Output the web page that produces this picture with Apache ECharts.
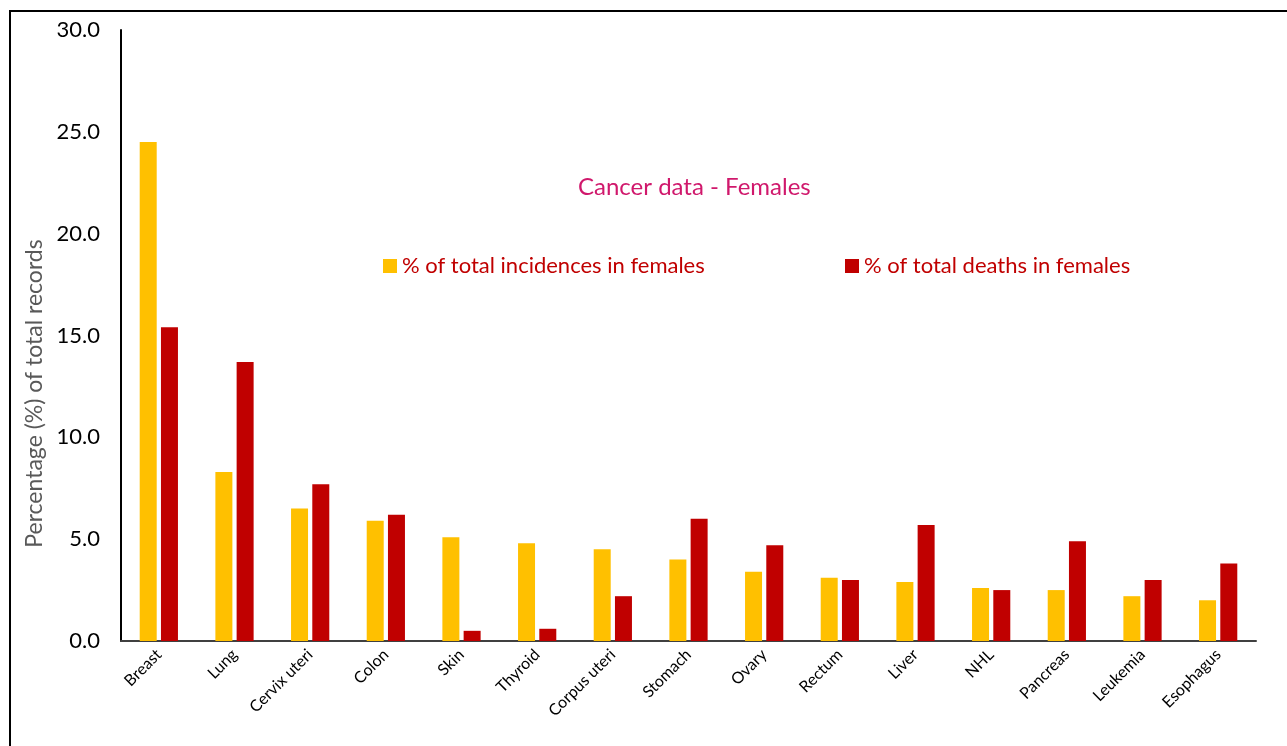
<!DOCTYPE html>
<html>
<head>
<meta charset="utf-8">
<script src="https://cdn.jsdelivr.net/npm/echarts@6/dist/echarts.min.js"></script>
<style>
  html, body { margin: 0; padding: 0; background: #fff; }
  #chart { width: 1287px; height: 746px; }
</style>
</head>
<body>
<div id="chart"></div>
<script>
// cancer types, in the order shown
var categories = ['Breast', 'Lung', 'Cervix uteri', 'Colon', 'Skin', 'Thyroid', 'Corpus uteri',
  'Stomach', 'Ovary', 'Rectum', 'Liver', 'NHL', 'Pancreas', 'Leukemia', 'Esophagus'];
// % of total incidences in females
var incidences = [24.5, 8.3, 6.5, 5.9, 5.1, 4.8, 4.5, 4.0, 3.4, 3.1, 2.9, 2.6, 2.5, 2.2, 2.0];
// % of total deaths in females
var deaths = [15.4, 13.7, 7.7, 6.2, 0.5, 0.6, 2.2, 6.0, 4.7, 3.0, 5.7, 2.5, 4.9, 3.0, 3.8];
var yTicks = { min: 0, max: 30, interval: 5 };

var font = 'Lato';
var legendText = { color: '#C00000', fontSize: 22, fontFamily: font };
var chart = echarts.init(document.getElementById('chart'));
var option = {
  animation: false,
  textStyle: { fontFamily: font },
  color: ['#FFC000', '#C00000'],
  title: {
    text: 'Cancer data - Females',
    left: 573,
    top: 170,
    textStyle: { color: '#D0186C', fontSize: 24, fontWeight: 'normal', fontFamily: font }
  },
  legend: [
    {
      left: 378, top: 250, itemWidth: 14, itemHeight: 14, icon: 'rect',
      textStyle: legendText,
      data: ['% of total incidences in females']
    },
    {
      left: 840, top: 250, itemWidth: 14, itemHeight: 14, icon: 'rect',
      textStyle: legendText,
      data: ['% of total deaths in females']
    }
  ],
  grid: { left: 121, right: 31, top: 30, bottom: 105, containLabel: false },
  xAxis: {
    type: 'category',
    data: categories,
    axisLine: { lineStyle: { color: '#404040', width: 2 } },
    axisTick: { show: false },
    axisLabel: { rotate: 45, fontSize: 16, color: '#000', margin: 11, interval: 0, fontFamily: font }
  },
  yAxis: {
    type: 'value',
    min: yTicks.min,
    max: yTicks.max,
    interval: yTicks.interval,
    name: 'Percentage (%) of total records',
    nameLocation: 'middle',
    nameGap: 69,
    nameTextStyle: { color: '#595959', fontSize: 23, fontFamily: font, padding: [0, 116, 0, 0] },
    axisLine: { show: true, lineStyle: { color: '#000', width: 2 } },
    axisTick: { show: false },
    splitLine: { show: false },
    axisLabel: {
      fontSize: 22, color: '#000', margin: 21, fontFamily: font,
      formatter: function (v) { return v.toFixed(1); }
    }
  },
  graphic: [{
    type: 'rect',
    shape: { x: 10, y: 11, width: 1400, height: 900 },
    style: { fill: 'none', stroke: '#000', lineWidth: 2 },
    silent: true
  }],
  series: [
    {
      name: '% of total incidences in females',
      type: 'bar',
      data: incidences,
      barWidth: 17,
      barGap: '25%'
    },
    {
      name: '% of total deaths in females',
      type: 'bar',
      data: deaths,
      barWidth: 17,
      barGap: '25%'
    }
  ]
};
chart.setOption(option);
</script>
</body>
</html>
